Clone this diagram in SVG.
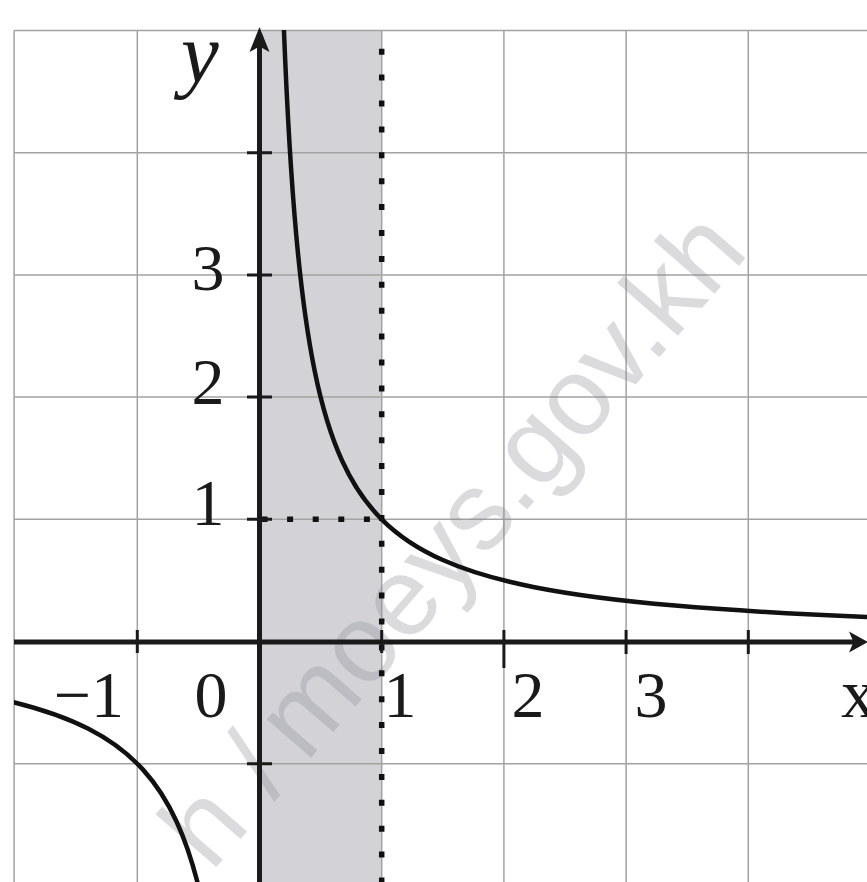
<svg xmlns="http://www.w3.org/2000/svg" width="867" height="882" viewBox="0 0 867 882">
  <style>
    .grid { stroke: #a2a2a2; stroke-width: 1.5; fill: none; }
    .axis { stroke: #1a1a1a; stroke-width: 5; fill: none; }
    .tick { stroke: #1a1a1a; stroke-width: 3; fill: none; }
    .dots { stroke: #111; stroke-width: 5.5; fill: none; }
    .curve { stroke: #111; stroke-width: 4.5; fill: none; stroke-linecap: round; }
    .lbl { font-family: "Liberation Serif", "Times New Roman", serif; font-size: 66px; fill: #1a1a1a; }
    .wm { font-family: "Liberation Sans", Arial, sans-serif; font-size: 111px; fill: #8c8c98; opacity: 0.31; }
  </style>
  <defs>
    <clipPath id="plot"><rect x="14" y="30" width="853" height="852"/></clipPath>
  </defs>
  <rect width="867" height="882" fill="#ffffff"/>

  <g id="shading">
    <rect x="262" y="30" width="119.7" height="852" fill="#d3d3d7"/>
  </g>

  <g id="grid">
    <path class="grid" d="M14.1 30.5V882M137.3 30.5V882M381.7 30.5V882M503.9 30.5V882M626.1 30.5V882M748.3 30.5V882"/>
    <path class="grid" d="M14.1 30.5H867M14.1 152.7H867M14.1 274.9H867M14.1 397.1H867M14.1 519.3H867M14.1 763.7H867"/>
  </g>

  <g id="watermark">
    <text class="wm" transform="translate(750 253) rotate(-49)" text-anchor="end">h<tspan dx="33">/</tspan><tspan dx="19">moeys.gov.kh</tspan></text>
  </g>

  <g id="connectors">
    <path class="dots" d="M381.7 48.7V882" stroke-dasharray="6 19.9"/>
    <path class="dots" d="M261.5 519.3H381" stroke-dasharray="6 19.6"/>
    <g clip-path="url(#plot)">
      <path class="curve" d="M283.94 30.5C288.01 132.33 292.09 188.91 296.16 234.17C302.27 302.06 308.38 339.77 314.49 369.94C323.66 415.20 332.82 440.34 341.99 460.46C355.23 489.52 368.46 506.06 381.7 519.3C402.07 539.67 422.43 550.98 442.8 560.03C473.35 573.61 503.9 581.16 534.45 587.19C581.29 596.44 628.14 601.51 674.98 605.56C740.15 611.20 805.33 614.45 870.5 617.06"/>
      <path class="curve" d="M2.88 699.69C31.39 706.16 59.91 714.24 88.42 728.79C106.75 738.14 125.08 749.82 143.41 770.13C154.41 782.32 165.40 797.43 176.40 821.21C184.55 838.83 192.69 860.72 200.84 896.08"/>
    </g>
  </g>

  <g id="axes">
    <path class="axis" d="M14 642H856"/>
    <polygon points="868,642 849,631.5 853.5,642 849,652.5" fill="#1a1a1a"/>
    <path class="axis" d="M259.5 882V44"/>
    <polygon points="259.5,27 249.5,52 259.5,46.5 269.5,52" fill="#1a1a1a"/>
    <path class="tick" d="M247 152.7H272M247 274.9H272M247 397.1H272M247 519.3H272M247 763.7H272"/>
    <path class="tick" d="M137.3 630V653M381.7 630V653M503.9 630V668M626.1 630V654M748.3 630V654"/>
  </g>

  <g id="labels">
    <text class="lbl" x="181" y="82" style="font-style:italic;font-size:85px">y</text>
    <text class="lbl" x="208" y="290" text-anchor="middle">3</text>
    <text class="lbl" x="208" y="404" text-anchor="middle">2</text>
    <text class="lbl" x="208" y="525" text-anchor="middle">1</text>
    <text class="lbl" x="124" y="717" text-anchor="end">−1</text>
    <text class="lbl" x="211" y="717" text-anchor="middle">0</text>
    <text class="lbl" x="400" y="717" text-anchor="middle">1</text>
    <text class="lbl" x="528" y="717" text-anchor="middle">2</text>
    <text class="lbl" x="651" y="717" text-anchor="middle">3</text>
    <text class="lbl" x="841" y="717" style="font-size:70px">x</text>
  </g>
</svg>
